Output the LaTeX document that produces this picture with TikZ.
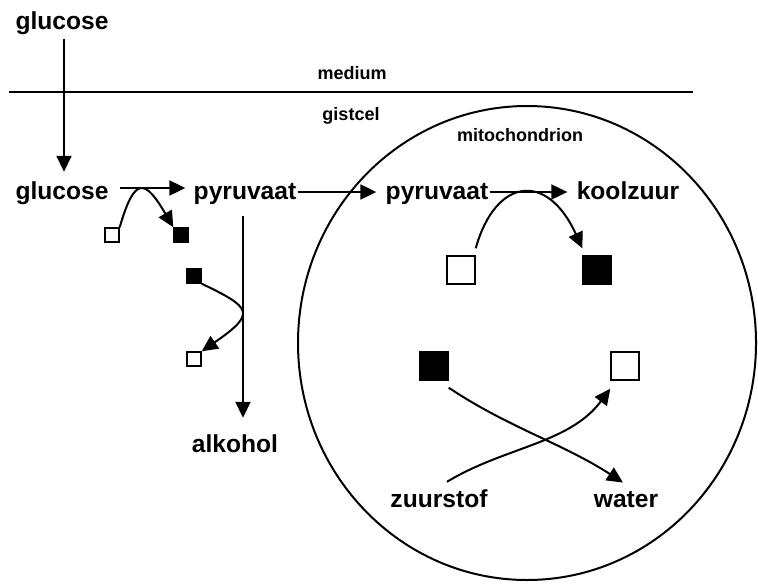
\documentclass[tikz,border=0pt]{standalone}
\usepackage{fontspec}
\setmainfont{Liberation Sans}
\usetikzlibrary{arrows.meta}
\tikzset{
  lbl/.style={font=\fontsize{12.3}{14}\selectfont\bfseries, inner sep=0pt, anchor=base},
  sml/.style={font=\fontsize{9}{11}\selectfont\bfseries, inner sep=0pt, anchor=base},
  arr/.style={line width=1pt, -{Triangle[length=8pt,width=7.5pt]}},
  wsq/.style={draw, fill=white, line width=0.7pt, inner sep=0pt, minimum size=7pt},
  bsq/.style={wsq, fill=black},
  wbig/.style={wsq, minimum size=14pt},
  bbig/.style={bsq, minimum size=14pt}
}
\begin{document}
\begin{tikzpicture}[x=0.5pt,y=-0.5pt]
  \useasboundingbox (0,0) rectangle (758,583);
  % membrane and mitochondrion
  \draw[line width=0.8pt] (9,92) -- (693,92);
  \draw[line width=1pt] (527,343) ellipse [x radius=229, y radius=237];
  \node[sml] (med) at (352,80) {medium};
  \node[sml] (cel) at (351,120) {gistcel};
  \node[sml] (mit) at (520,141) {mitochondrion};
  % substances
  \node[lbl] (glc1) at (62,30) {glucose};
  \node[lbl] (glc2) at (62,199) {glucose};
  \node[lbl] (pyr1) at (245,199) {pyruvaat};
  \node[lbl] (pyr2) at (437,199) {pyruvaat};
  \node[lbl] (kool) at (628,199) {koolzuur};
  \node[lbl] (alk) at (235,452) {alkohol};
  \node[lbl] (zst) at (439,507) {zuurstof};
  \node[lbl] (wat) at (626,507) {water};
  % carriers
  \node[wsq] (wo1) at (112,235) {};
  \node[bsq] (bz1) at (181,235) {};
  \node[bsq] (bz2) at (194,276) {};
  \node[wsq] (wo2) at (194,359) {};
  \node[wbig] (wo3) at (461,270) {};
  \node[bbig] (bz3) at (597,270) {};
  \node[bbig] (bz4) at (434,366) {};
  \node[wbig] (wo4) at (625,366) {};
  % main route
  \draw[arr] ([shift={(2,3)}]glc1.south) -- ([shift={(2,-9)}]glc2.north);
  \draw[arr] ([shift={(11,-11)}]glc2.base east) -- ([shift={(-8,-11)}]pyr1.base west);
  \draw[arr] ([shift={(1,-7)}]pyr1.base east) -- ([shift={(-9,-7)}]pyr2.base west);
  \draw[arr] ([shift={(1,-7)}]pyr2.base east) -- ([shift={(-9,-7)}]kool.base west);
  \draw[arr, shorten >=8pt] ([shift={(-2,11)}]pyr1.south) -- ([xshift=-1pt]pyr1.south |- alk.north);
  % carrier curves
  \draw[arr] (wo1.north east) .. controls +(15,-52) and +(-28,-48) .. (bz1.north west);
  \draw[arr] (bz2.south east) .. controls +(50,24) and +(55,-38) .. (wo2.north east);
  \draw[arr] ([yshift=3.5pt]wo3.north east) .. controls +(20,-71) and +(-35,-77) .. ([yshift=3.5pt]bz3.north west);
  \draw[arr] ([yshift=-3.5pt]bz4.south east) .. controls +(60,40) and +(-60,-39) .. ([shift={(-3,-8)}]wat.north);
  \draw[arr] ([shift={(8,-7)}]zst.north) .. controls +(58,-35) and +(-41,55) .. ([yshift=-4pt]wo4.south west);
\end{tikzpicture}
\end{document}
